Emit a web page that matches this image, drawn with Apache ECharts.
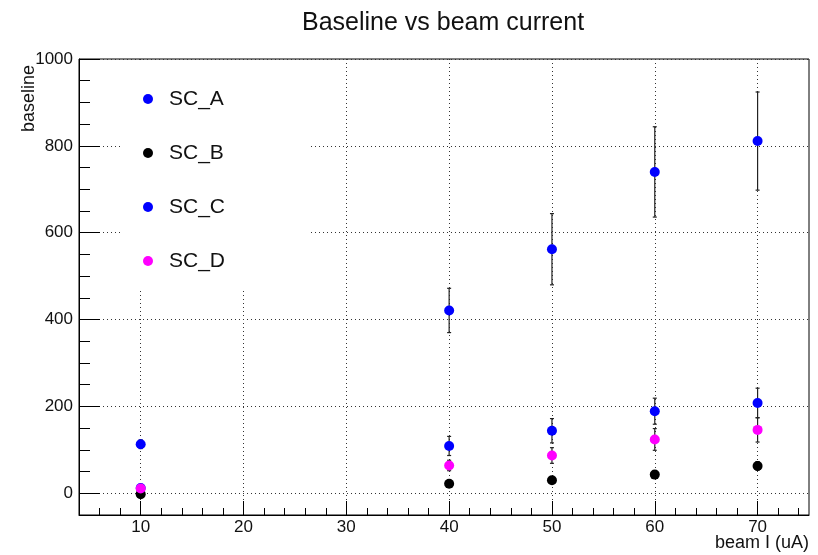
<!DOCTYPE html>
<html>
<head>
<meta charset="utf-8">
<script src="https://cdn.jsdelivr.net/npm/echarts@6/dist/echarts.min.js"></script>
<style>
html,body{margin:0;padding:0;background:#fff;}
#chart{width:818px;height:555px;}
</style>
</head>
<body>
<div id="chart"></div>
<script>
// ---- data ----
const beamI = [10, 40, 50, 60, 70];
const scA = [113, 421, 562, 740, 811];
const scAErr = [10, 51, 82, 104, 113];
const scB = [-2, 22, 30, 43, 63];
const scBErr = [4, 5, 6, 8, 10];
const scC = [12, 109, 144, 189, 208];
const scCErr = [5, 22, 28, 30, 34];
const scD = [11, 64, 87, 124, 146];
const scDErr = [4, 12, 18, 25, 28];
const seriesNames = ['SC_A', 'SC_B', 'SC_C', 'SC_D'];
const xTicks = [10, 20, 30, 40, 50, 60, 70];
const xMinorTicks = [6, 8, 12, 14, 16, 18, 22, 24, 26, 28, 32, 34, 36, 38, 42, 44, 46, 48, 52, 54, 56, 58, 62, 64, 66, 68, 72, 74];
const yTicks = [0, 200, 400, 600, 800, 1000];
const yMinorTicks = [50, 100, 150, 250, 300, 350, 450, 500, 550, 650, 700, 750, 850, 900, 950];

const colors = ['#0000ff', '#000000', '#0000ff', '#ff00ff'];
const vals = [scA, scB, scC, scD];
const errs = [scAErr, scBErr, scCErr, scDErr];
const FONT = 'Liberation Sans, Arial, Helvetica, sans-serif';

const chart = echarts.init(document.getElementById('chart'), null, {renderer: 'canvas'});

const series = [];
seriesNames.forEach((name, i) => {
  series.push({
    name: name + '_err',
    type: 'custom',
    xAxisIndex: 0, yAxisIndex: 0,
    z: 2 + i * 2,
    silent: true,
    data: beamI.map((x, k) => [x, vals[i][k] - errs[i][k], vals[i][k] + errs[i][k]]),
    renderItem: function (params, api) {
      const lo = api.coord([api.value(0), api.value(1)]);
      const hi = api.coord([api.value(0), api.value(2)]);
      const c = 2;
      const st = {stroke: '#222', lineWidth: 1.2};
      return {
        type: 'group',
        children: [
          {type: 'line', shape: {x1: lo[0], y1: lo[1], x2: hi[0], y2: hi[1]}, style: st},
          {type: 'line', shape: {x1: lo[0] - c, y1: lo[1], x2: lo[0] + c, y2: lo[1]}, style: st},
          {type: 'line', shape: {x1: hi[0] - c, y1: hi[1], x2: hi[0] + c, y2: hi[1]}, style: st}
        ]
      };
    }
  });
  series.push({
    name: name,
    type: 'scatter',
    xAxisIndex: 0, yAxisIndex: 0,
    z: 3 + i * 2,
    symbol: 'circle',
    symbolSize: 10,
    itemStyle: {color: colors[i], opacity: 1},
    data: beamI.map((x, k) => [x, vals[i][k]])
  });
});

const plain = v => String(v);

const option = {
  backgroundColor: '#fff',
  animation: false,
  title: {
    text: 'Baseline vs beam current',
    left: 297, top: 6,
    textStyle: {fontFamily: FONT, fontSize: 25, fontWeight: 'normal', color: '#111'}
  },
  legend: {
    data: seriesNames,
    orient: 'vertical',
    left: 138, top: 82,
    itemWidth: 10, itemHeight: 10, itemGap: 30,
    icon: 'circle',
    z: 6,
    textStyle: {fontFamily: FONT, fontSize: 21, lineHeight: 24, color: '#111', padding: [0, 0, 0, 11]}
  },
  grid: {
    left: 79, right: 9, top: 59, bottom: 40,
    show: true, borderColor: '#000', borderWidth: 1, backgroundColor: 'transparent'
  },
  xAxis: [{
    type: 'value', min: 4, max: 75, position: 'bottom',
    axisLine: {show: true, onZero: false, lineStyle: {color: '#000', width: 1}},
    axisTick: {show: true, inside: true, length: 14, customValues: xTicks, lineStyle: {color: '#000'}},
    axisLabel: {customValues: xTicks, formatter: plain, fontFamily: FONT, fontSize: 17, color: '#111', margin: 4},
    splitLine: {show: true, lineStyle: {color: '#333', type: [1, 3], width: 1}}
  }, {
    type: 'value', min: 4, max: 75, position: 'bottom',
    axisLine: {show: false, onZero: false},
    axisTick: {show: true, inside: true, length: 7, customValues: xMinorTicks, lineStyle: {color: '#000'}},
    axisLabel: {show: false},
    splitLine: {show: false}
  }],
  yAxis: [{
    type: 'value', min: -50, max: 1000, position: 'left',
    axisLine: {show: true, onZero: false, lineStyle: {color: '#000', width: 1}},
    axisTick: {show: true, inside: true, length: 21, customValues: yTicks, lineStyle: {color: '#000'}},
    axisLabel: {customValues: yTicks, formatter: plain, fontFamily: FONT, fontSize: 17, color: '#111', margin: 6},
    splitLine: {show: true, lineStyle: {color: '#333', type: [1, 3], width: 1}}
  }, {
    type: 'value', min: -50, max: 1000, position: 'left',
    axisLine: {show: false, onZero: false},
    axisTick: {show: true, inside: true, length: 11, customValues: yMinorTicks, lineStyle: {color: '#000'}},
    axisLabel: {show: false},
    splitLine: {show: false}
  }],
  graphic: [
    {type: 'rect', z: 5, silent: true, shape: {x: 123, y: 60, width: 187, height: 230}, style: {fill: '#fff'}},
    {type: 'text', z: 5, x: 29, y: 65, rotation: Math.PI / 2,
      style: {text: 'baseline', fontFamily: FONT, fontSize: 18, fill: '#111', textAlign: 'right', textVerticalAlign: 'middle'}},
    {type: 'text', z: 5, x: 809, y: 543,
      style: {text: 'beam I (uA)', fontFamily: FONT, fontSize: 18, fill: '#111', textAlign: 'right', textVerticalAlign: 'middle'}}
  ],
  series: series
};
chart.setOption(option);
</script>
</body>
</html>
